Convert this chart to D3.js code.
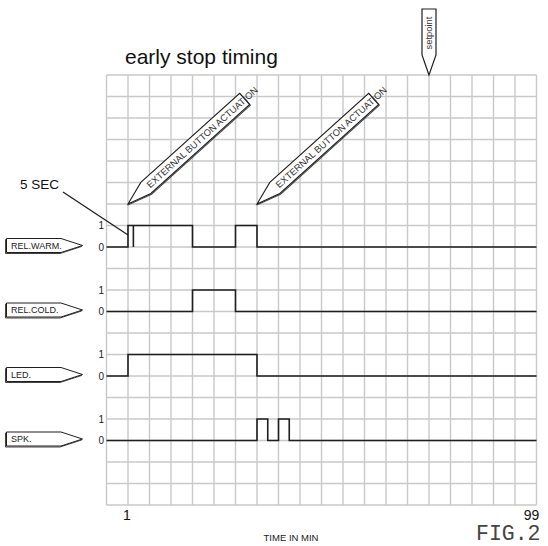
<!DOCTYPE html>
<html>
<head>
<meta charset="utf-8">
<script src="https://cdn.jsdelivr.net/npm/d3@7"></script>
<style>
  body { margin: 0; background: #fff; }
  svg { display: block; }
</style>
</head>
<body>
<script>
// time axis is in grid divisions (20 across), levels are 0 / 1
var signalNames = ['REL.WARM.', 'REL.COLD.', 'LED.', 'SPK.'];

var relWarm = [[0, 0], [1, 0], [1, 1], [1.25, 1], [1.25, 0], [1.25, 1], [4, 1], [4, 0], [6, 0], [6, 1], [7, 1], [7, 0], [20, 0]];
var relCold = [[0, 0], [4, 0], [4, 1], [6, 1], [6, 0], [20, 0]];
var led = [[0, 0], [1, 0], [1, 1], [7, 1], [7, 0], [20, 0]];
var spk = [[0, 0], [7, 0], [7, 1], [7.5, 1], [7.5, 0], [8, 0], [8, 1], [8.5, 1], [8.5, 0], [20, 0]];
var signals = [relWarm, relCold, led, spk];

var actuationTimes = [1, 7];
var actuationText = 'EXTERNAL BUTTON ACTUATION';
var setpointTime = 15;
var delayTime = 1;
var delayText = '5 SEC';

var xTickCols = [1, 20];
var xTickLabels = ['1', '99'];
var levelLabels = ['0', '1'];

var W = 548, H = 546;
var font = 'Liberation Sans, Arial, sans-serif';
var ink = '#1e1e1e';

var svg = d3.select('body').append('svg')
  .attr('width', W)
  .attr('height', H);

var x = d3.scaleLinear().domain([0, 20]).range([106.5, 536.5]);
var y = d3.scaleLinear().domain([0, 20]).range([75, 505]);

// lane i: 0-level on row 8 + 3i
var laneRow = function(i) { return 8 + i * 3; };
var levelY = function(i, v) { return y(laneRow(i) - v); };

// grid
var grid = svg.append('g').attr('stroke', '#c9c9c9').attr('stroke-width', 1.4);
grid.selectAll('line.v').data(d3.range(21)).enter().append('line')
  .attr('class', 'v')
  .attr('x1', function(d) { return x(d); })
  .attr('x2', function(d) { return x(d); })
  .attr('y1', y(0))
  .attr('y2', y(20));
grid.selectAll('line.h').data(d3.range(21)).enter().append('line')
  .attr('class', 'h')
  .attr('y1', function(d) { return y(d); })
  .attr('y2', function(d) { return y(d); })
  .attr('x1', x(0))
  .attr('x2', x(20));

// title
svg.append('text')
  .attr('x', 125)
  .attr('y', 64)
  .attr('font-family', font)
  .attr('font-size', 21)
  .attr('fill', '#111')
  .text('early stop timing');

// waveforms
signals.forEach(function(pts, i) {
  var line = d3.line()
    .x(function(d) { return x(d[0]); })
    .y(function(d) { return levelY(i, d[1]); });
  svg.append('path')
    .attr('d', line(pts))
    .attr('fill', 'none')
    .attr('stroke', ink)
    .attr('stroke-width', 1.6)
    .attr('stroke-linejoin', 'miter');

  levelLabels.forEach(function(lab, v) {
    svg.append('text')
      .attr('x', 104)
      .attr('y', levelY(i, v) + 3.5)
      .attr('text-anchor', 'end')
      .attr('font-family', font)
      .attr('font-size', 10)
      .attr('fill', '#222')
      .text(lab);
  });

  // name tag
  var cy = levelY(i, 0) - 1.5;
  var tag = 'M6.5,' + (cy - 7) + 'L61,' + (cy - 7) + 'L82.5,' + cy + 'L61,' + (cy + 7) + 'L6.5,' + (cy + 7) + 'Z';
  svg.append('path')
    .attr('d', tag)
    .attr('transform', 'translate(-1,1)')
    .attr('fill', 'none')
    .attr('stroke', '#444')
    .attr('stroke-width', 1);
  svg.append('path')
    .attr('d', tag)
    .attr('fill', '#fff')
    .attr('stroke', ink)
    .attr('stroke-width', 1);
  svg.append('text')
    .attr('x', 11)
    .attr('y', cy + 3.3)
    .attr('font-family', font)
    .attr('font-size', 9)
    .attr('fill', '#222')
    .text(signalNames[i]);
});

// 5 SEC leader
svg.append('line')
  .attr('x1', 63)
  .attr('y1', 192)
  .attr('x2', x(delayTime))
  .attr('y2', 235)
  .attr('stroke', ink)
  .attr('stroke-width', 1.3);
svg.append('text')
  .attr('x', 20)
  .attr('y', 189)
  .attr('font-family', font)
  .attr('font-size', 13.5)
  .attr('fill', '#111')
  .text(delayText);

// actuation pencils
var pencil = 'M0,0L24,-7.5L157,-7.5L157,7.5L24,7.5Z';
actuationTimes.forEach(function(t) {
  var g = svg.append('g')
    .attr('transform', 'translate(' + x(t) + ',' + y(6) + ') rotate(-42)');
  g.append('path')
    .attr('d', pencil)
    .attr('transform', 'translate(0,1)')
    .attr('fill', 'none')
    .attr('stroke', '#444')
    .attr('stroke-width', 1);
  g.append('path')
    .attr('d', pencil)
    .attr('fill', '#fff')
    .attr('stroke', ink)
    .attr('stroke-width', 1.1);
  g.append('text')
    .attr('x', 27)
    .attr('y', 3.4)
    .attr('font-family', font)
    .attr('font-size', 9.4)
    .attr('fill', '#333')
    .text(actuationText);
});

// setpoint marker
var sp = svg.append('g').attr('transform', 'translate(' + x(setpointTime) + ',' + y(0) + ')');
sp.append('path')
  .attr('d', 'M0,0L-7,-20L-7,-66L7,-66L7,-20Z')
  .attr('fill', '#fff')
  .attr('stroke', ink)
  .attr('stroke-width', 1.2);
sp.append('text')
  .attr('transform', 'translate(3.2,-42) rotate(-90)')
  .attr('text-anchor', 'middle')
  .attr('font-family', font)
  .attr('font-size', 9.4)
  .attr('fill', '#333')
  .text('setpoint');

// x tick labels
svg.selectAll('text.xt').data(xTickCols).enter().append('text')
  .attr('class', 'xt')
  .attr('x', function(d) { return x(d); })
  .attr('dx', function(d, i) { return i === 0 ? -1 : -5; })
  .attr('y', 520)
  .attr('text-anchor', 'middle')
  .attr('font-family', font)
  .attr('font-size', 14)
  .attr('fill', '#111')
  .text(function(d, i) { return xTickLabels[i]; });

svg.append('text')
  .attr('x', 291)
  .attr('y', 541)
  .attr('text-anchor', 'middle')
  .attr('font-family', font)
  .attr('font-size', 9.5)
  .attr('fill', '#222')
  .text('TIME IN MIN');

svg.append('text')
  .attr('x', 476)
  .attr('y', 540)
  .attr('font-family', 'Liberation Mono, Courier New, monospace')
  .attr('font-size', 21.5)
  .attr('fill', '#444')
  .text('FIG.2');
</script>
</body>
</html>
